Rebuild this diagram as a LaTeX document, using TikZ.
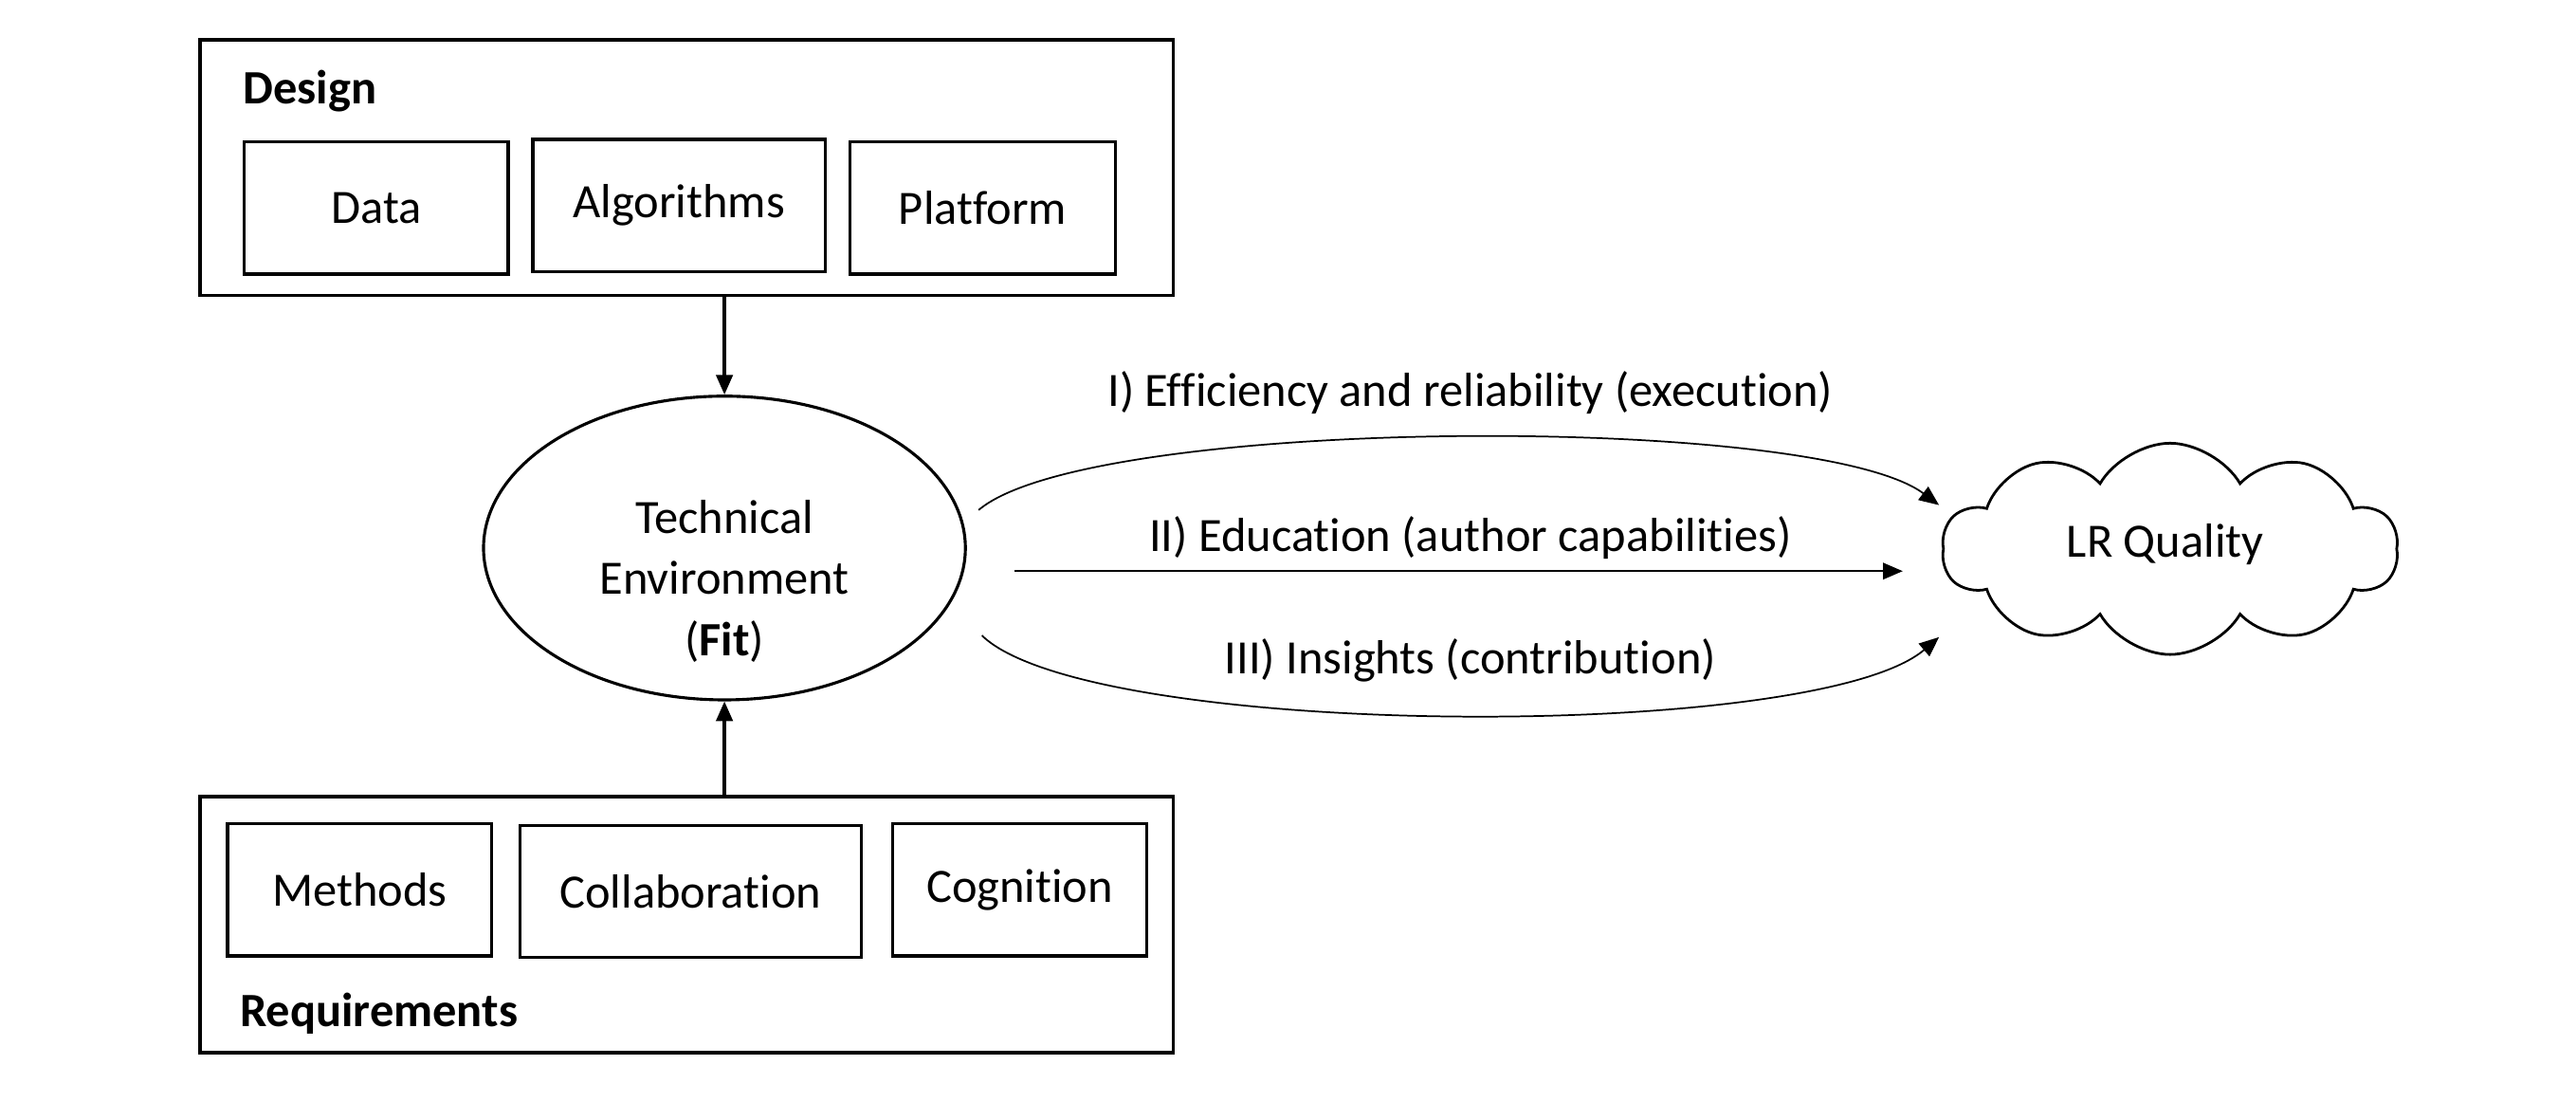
\documentclass[tikz,border=0pt]{standalone}
\usepackage{fontspec}
\setmainfont{Carlito}[Ligatures=NoCommon]
\usetikzlibrary{arrows.meta,shapes.geometric,shapes.symbols}
\tikzset{
frame/.style={draw,line width=1.1pt,minimum width=295pt,minimum height=77.5pt,inner sep=0pt},
box/.style={draw,line width=1pt,minimum height=40pt,inner sep=0pt},
arr/.style={-{Triangle[length=6pt,width=5pt]}},
}
\begin{document}
\begin{tikzpicture}[x=0.5pt,y=-0.5pt,font=\fontsize{14.5}{18.5}\selectfont]
\useasboundingbox (0,0) rectangle (1561,678.5);
%outer frames
\node[frame] (des) at (416,101.5) {};
\node[frame] (req) at (416,560) {};
\node[anchor=west,inner sep=0pt,font=\fontsize{14.5}{18.5}\selectfont\bfseries] (desl) at (147,55) {Design};
\node[anchor=west,inner sep=0pt,font=\fontsize{14.5}{18.5}\selectfont\bfseries] (reql) at (145,614) {Requirements};
%inner boxes
\foreach \n/\x/\y/\w/\t in {d1/228/126/80/Data,d2/411.5/124.5/88.5/Algorithms,d3/595.5/126/80.5/Platform,
r1/218/539/80/Methods,r2/418.5/540/103.5/Collaboration,r3/618/539/77/Cognition}
{\node[box,minimum width=\w pt] (\n) at (\x,\y) {\t};}
%fit
\node[ellipse,draw,line width=0.9pt,minimum width=146pt,minimum height=92pt] (te) at (439,332) {};
\node[align=center] (tet) at (439,352) {Technical\\Environment\\(\textbf{Fit})};
\draw[arr,line width=1pt] (te.north |- des.south) -- (te.north);
\draw[arr,line width=1pt] (te.south |- req.north) -- (te.south);
%quality
\node[cloud,draw,line width=0.8pt,cloud puffs=10,cloud puff arc=120,cloud ignores aspect,
minimum width=138pt,minimum height=64pt,inner sep=0pt] (lr) at (1315,332.5) {};
\node (lrt) at (1312,330) {LR Quality};
\coordinate (a1) at (593,309); \coordinate (b1) at (1175,306);
\coordinate (a2) at (615,346); \coordinate (b2) at (1153,346);
\coordinate (a3) at (595,385); \coordinate (b3) at (1175,386);
\draw[arr,line width=0.5pt] (a1) .. controls (660,252) and (1100,250) .. (b1);
\draw[arr,line width=0.6pt] (a2) -- (b2);
\draw[arr,line width=0.5pt] (a3) .. controls (660,448) and (1100,450) .. (b3);
\node (e1) at (891,238) {I) Efficiency and reliability (execution)};
\node (e2) at (891,326) {II) Education (author capabilities)};
\node (e3) at (891,400) {III) Insights (contribution)};
\end{tikzpicture}
\end{document}
